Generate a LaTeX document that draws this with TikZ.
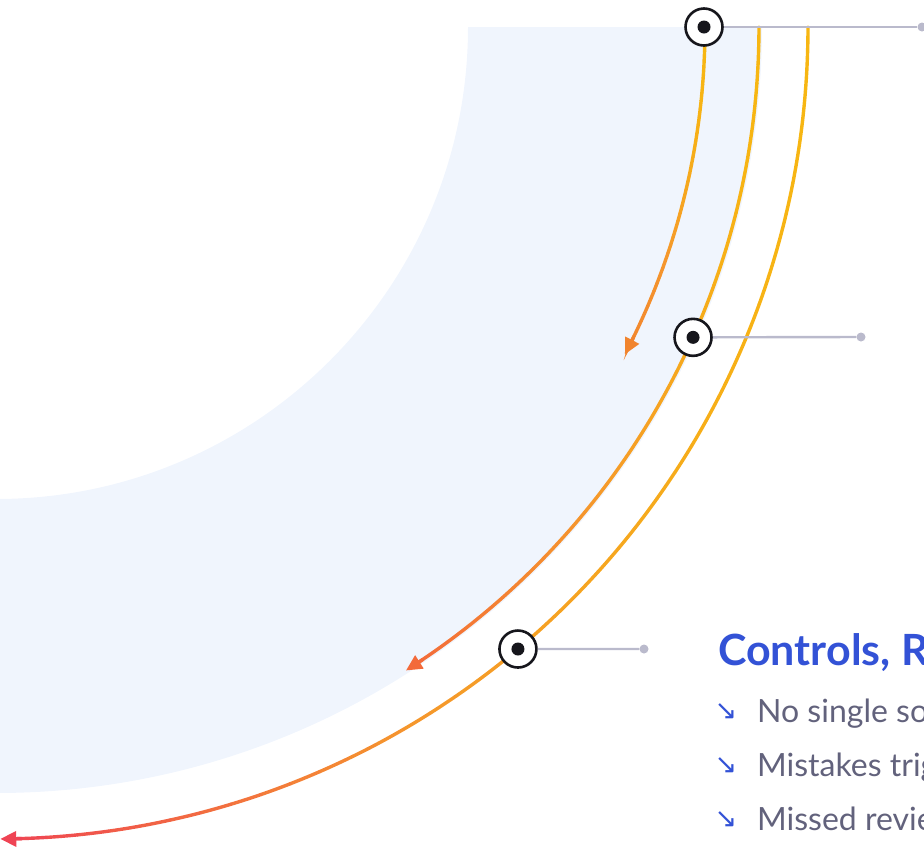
\documentclass[tikz,border=0pt]{standalone}
\usepackage{fontspec}
\setmainfont{Lato}
\newfontfamily\symfont{DejaVu Sans}
\usetikzlibrary{arrows.meta, calc}
\definecolor{bandblue}{RGB}{240, 245, 253}
\definecolor{arcyellow}{RGB}{247, 182, 18}
\definecolor{arcorange}{RGB}{245, 150, 45}
\definecolor{arcdeep}{RGB}{241, 132, 46}
\definecolor{arcflame}{RGB}{243, 106, 58}
\definecolor{arcred}{RGB}{239, 68, 84}
\definecolor{leadgray}{RGB}{186, 186, 204}
\definecolor{dotblack}{RGB}{22, 22, 28}
\definecolor{titleblue}{RGB}{51, 82, 214}
\definecolor{itemgray}{RGB}{98, 98, 124}

% arc round (C) from 0 deg: radius, tip angle, middle colour, end colour
\newcommand{\gradarc}[4]{%
  \foreach \k in {0,...,39} {
    \pgfmathsetmacro{\segA}{(#2-1)*\k/40}
    \pgfmathsetmacro{\segB}{(#2-1)*(\k+1)/40}
    \pgfmathsetmacro{\segT}{(1-cos((\segA+\segB)/2))/(1-cos(#2))*100}
    \pgfmathtruncatemacro{\segP}{min(2*\segT,100)}
    \pgfmathtruncatemacro{\segQ}{100-max(2*\segT-100,0)}
    \draw[arcline, #3!\segP!arcyellow!\segQ!#4]
      ($(C)+(\segA:#1)$) arc[start angle=\segA, end angle=\segB, radius=#1];
  }
  \draw[arcline, #4, -{Triangle[length=16pt, width=15pt]}]
    ($(C)+(#2-1.5:#1)$) arc[start angle=#2-1.5, end angle=#2, radius=#1];
}

\tikzset{
  arcline/.style={line width=3.4pt, line cap=round},
  leader/.style={draw=leadgray, line width=2.4pt},
  leaddot/.style={circle, fill=leadgray, minimum size=9pt, inner sep=0pt},
  marker/.style={circle, draw=dotblack, fill=white, line width=2.6pt,
    minimum size=37pt, inner sep=0pt,
    path picture={\fill[dotblack] (path picture bounding box.center) circle (6.5pt);}},
  heading/.style={anchor=base west, text=titleblue, font=\fontsize{43}{50}\selectfont\bfseries, inner sep=0pt},
  item/.style={anchor=base west, text=itemgray, font=\fontsize{32}{38}\selectfont, inner sep=0pt},
  bullet/.style={text=titleblue, font=\symfont\fontsize{27}{30}\selectfont, inner sep=0pt}
}

\begin{document}
\begin{tikzpicture}[x=1pt, y=-1pt]
  \useasboundingbox (0,0) rectangle (924,847);
  \clip (0,0) rectangle (924,847);
  \coordinate (C) at (-4,27);

  % Band
  \fill[bandblue] ($(C)+(0:472)$) arc[start angle=0, end angle=90, radius=472]
    -- ($(C)+(90:766)$) arc[start angle=90, end angle=0, radius=766] -- cycle;

  % Arcs
  \gradarc{709}{27.5}{arcorange}{arcdeep}
  \gradarc{763}{57.5}{arcorange}{arcflame}
  \gradarc{812}{89.7}{arcorange}{arcred}

  % Markers
  \node[marker] (m1) at ($(C)+(0:708)$) {};
  \node[marker] (m2) at ($(C)+(24:763)$) {};
  \node[marker] (m3) at ($(C)+(50:812)$) {};
  \node[leaddot] (d1) at (922,27) {};
  \node[leaddot] (d2) at (861,337) {};
  \node[leaddot] (d3) at (644,649) {};
  \draw[leader] (m1) -- (d1);
  \draw[leader] (m2) -- (d2);
  \draw[leader] (m3) -- (d3);

  % Text
  \node[heading] (title) at (718,665) {Controls, R};
  \node[bullet] (b1) at (726,712) {↘};
  \node[bullet] (b2) at (726,766) {↘};
  \node[bullet] (b3) at (726,820) {↘};
  \node[item] (l1) at (757,722) {No single sou};
  \node[item] (l2) at (757,776) {Mistakes trig};
  \node[item] (l3) at (757,830) {Missed revie};
\end{tikzpicture}
\end{document}
